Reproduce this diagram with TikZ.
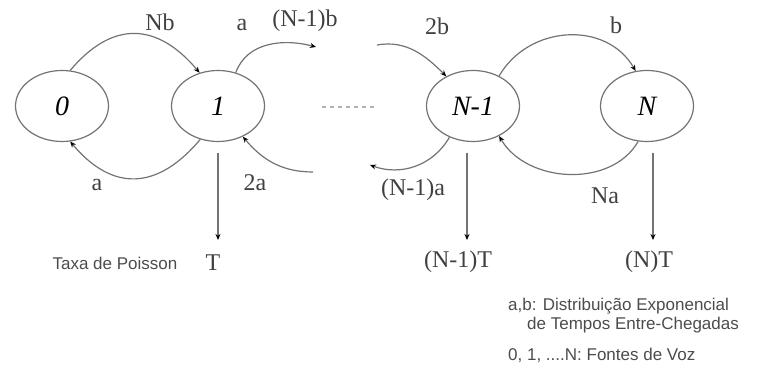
\documentclass[tikz,border=0pt]{standalone}
\usepackage{fontspec}
\setmainfont{Liberation Serif}
\newfontfamily\legendfont{Liberation Sans}
\usetikzlibrary{arrows.meta,shapes.geometric,positioning}

\begin{document}
\begin{tikzpicture}[x=1pt,y=1pt,
  state/.style={draw=black!55,line width=1.2pt,ellipse,minimum width=93pt,minimum height=71pt,inner sep=0pt,font=\fontsize{28}{30}\selectfont\itshape},
  edge/.style={draw=black!55,line width=1.2pt,-{Stealth[length=6pt,width=5pt,black]}},
  lbl/.style={font=\fontsize{24}{26}\selectfont,inner sep=1pt,text=black!75},
  leg/.style={font=\legendfont\fontsize{17}{19}\selectfont,anchor=west,inner sep=0pt,text=black!70}]
  \useasboundingbox (0,0) rectangle (782,369);
  \node[state] (s0) at (62,263) {0};
  \node[state] (s1) at (218,263) {1};
  \node[state] (sN1) at (473,263) {N-1};
  \node[state] (sN) at (647,263) {N};
  \draw[dash pattern=on 4pt off 4pt,line width=2pt,black!30] (322,262) -- (378,262);
  \coordinate (c1) at (316,322);
  \coordinate (c2) at (313,197);
  \coordinate (c3) at (377,324);
  \coordinate (c4) at (370,204);
  \draw[edge] (s0.77) to[out=50,in=130,looseness=1.3] (s1.119);
  \draw[edge] (s1.242) to[out=230,in=310,looseness=1.3] (s0.283);
  \draw[edge] (s1.62) to[out=70,in=165] (c1);
  \draw[edge] (c2) to[out=180,in=-50] (s1.-51);
  \draw[edge] (c3) to[out=10,in=135] (sN1.132);
  \draw[edge] (sN1.233) to[out=240,in=-20] (c4);
  \draw[edge] (sN1.49) to[out=60,in=120,looseness=1.1] (sN.108);
  \draw[edge] (sN.256) to[out=240,in=300] (sN1.311);
  \node[lbl] (lNb) at (160,347) {Nb};
  \node[lbl] (la) at (97,184) {a};
  \node[lbl] (la2) at (242,344) {a};
  \node[lbl] (lN1b) at (305,348) {(N-1)b};
  \node[lbl] (l2a) at (255,186) {2a};
  \node[lbl] (l2b) at (437,343) {2b};
  \node[lbl] (lN1a) at (413,179) {(N-1)a};
  \node[lbl] (lb) at (616,344) {b};
  \node[lbl] (lNa) at (605,173) {Na};
  \coordinate (e1) at (217,129);
  \coordinate (e2) at (467,129);
  \coordinate (e3) at (653,129);
  \draw[edge,shorten <=11pt] (s1.south) -- (s1.south |- e1);
  \draw[edge] ([xshift=-6pt,yshift=-11pt]sN1.south) -- (e2);
  \draw[edge] ([xshift=6pt,yshift=-11pt]sN.south) -- (e3);
  \node[lbl] (tT) at (213,106) {T};
  \node[lbl] (tN1) at (458,107) {(N-1)T};
  \node[lbl] (tN) at (649,107) {(N)T};
  \node[leg,anchor=center] (taxa) at (115,106) {Taxa de Poisson};
  \node[leg] (leg1) at (508,63) {a,b: Distribuição Exponencial};
  \node[leg] (leg2) at (527,44) {de Tempos Entre-Chegadas};
  \node[leg] (leg3) at (508,14) {0, 1, ....N: Fontes de Voz};
\end{tikzpicture}
\end{document}
